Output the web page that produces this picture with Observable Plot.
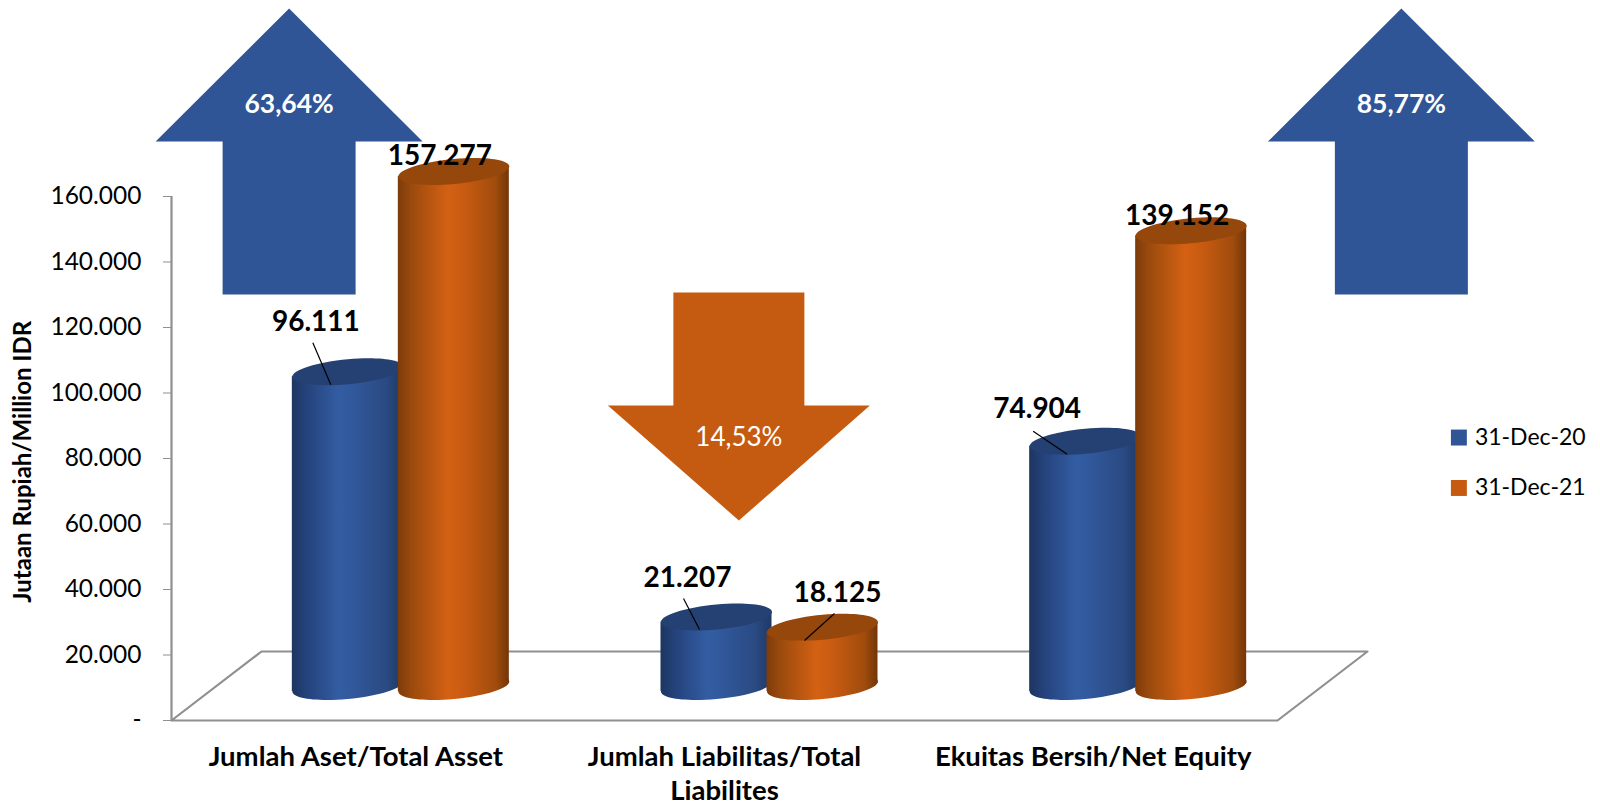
<!DOCTYPE html>
<html>
<head>
<meta charset="utf-8">
<script src="https://cdn.jsdelivr.net/npm/d3@7"></script>
<script src="https://cdn.jsdelivr.net/npm/@observablehq/plot@0.6"></script>
<style>
html,body{margin:0;padding:0;background:#fff}
svg{display:block}
</style>
</head>
<body>
<div id="chart"></div>
<script>
// ---- data ----
const categories = ["Jumlah Aset/Total Asset", "Jumlah Liabilitas/Total\nLiabilites", "Ekuitas Bersih/Net Equity"];
const seriesNames = ["31-Dec-20", "31-Dec-21"];
const values2020 = [96111, 21207, 74904];
const values2021 = [157277, 18125, 139152];
const yTicks = [0, 20000, 40000, 60000, 80000, 100000, 120000, 140000, 160000];
const changeLabels = ["63,64%", "14,53%", "85,77%"];
const yTitle = "Jutaan Rupiah/Million IDR";

// ---- styles & layout ----
const blue = "#2F5597", orange = "#C55A11";
const blueTop = "#254073", orangeTop = "#96470B";
const gray = "#8f8f8f";
const font = "Lato";
const pxX = 1 / 368.67;          // one pixel in x units
const pxY = 160000 / 524;        // one pixel in y units
const depthX = 45, depthY = -34; // the cylinders stand half way back on the floor
const halfW = 55.5 * pxX, gap = 53 * pxX, tilt = 5 * pxY;

function ellipseSymbol(a, b, s) {
  const k = 0.5523;
  const P = (x, y) => [x * a, y * b - s * x * a];
  return {draw(c) {
    c.moveTo(...P(1, 0));
    c.bezierCurveTo(...P(1, k), ...P(k, 1), ...P(0, 1));
    c.bezierCurveTo(...P(-k, 1), ...P(-1, k), ...P(-1, 0));
    c.bezierCurveTo(...P(-1, -k), ...P(-k, -1), ...P(0, -1));
    c.bezierCurveTo(...P(k, -1), ...P(1, -k), ...P(1, 0));
    c.closePath();
  }};
}
const disc = ellipseSymbol(55.5, 12.5, 5 / 55.5);

function polySymbol(pts) {
  return {draw(c) {
    pts.forEach((p, i) => i ? c.lineTo(...p) : c.moveTo(...p));
    c.closePath();
  }};
}
const arrowUp = polySymbol([[0,0],[133.5,133],[66.5,133],[66.5,286],[-66.5,286],[-66.5,133],[-133.5,133]]);
const arrowDown = polySymbol([[0,0],[131,-115],[65.5,-115],[65.5,-228],[-65.5,-228],[-65.5,-115],[-131,-115]]);

const centers = categories.map((_, i) => i + 0.5);

// the left edge of a cylinder sits lower on the page than the right edge
function body(vals, off) {
  return vals.flatMap((v, i) => [
    {id: i, x: centers[i] + off - halfW, y1: -tilt, y2: v - tilt},
    {id: i, x: centers[i] + off + halfW, y1: tilt, y2: v + tilt}
  ]);
}
function cylinders(vals, off, grad, topColor) {
  const pts = vals.map((v, i) => ({x: centers[i] + off, v}));
  const shift = {dx: depthX, dy: depthY};
  return [
    Plot.dot(pts, {x: "x", y: () => 0, r: 1, symbol: disc, fill: grad, ...shift}),
    Plot.areaY(body(vals, off), {x: "x", y1: "y1", y2: "y2", z: "id", fill: grad, ...shift}),
    Plot.dot(pts, {x: "x", y: "v", r: 1, symbol: disc, fill: topColor, ...shift})
  ];
}

// value labels: offset in pixels from the top of each cylinder
const labelOffsets2020 = [[-32, -50], [-29, -39], [-48, -32]];
const labelOffsets2021 = [[-14, -15], [15, -34], [-14, -15]];
// leader lines: [label end dx, dy, bar end dx, dy], pixels from the cylinder top
const leaders2020 = [[-35, -29, -17, 13], [-33, -18.5, -17, 12.5], [-52, -10, -18, 13]];
const leaders2021 = [null, [12, -13.6, -18, 13.4], null];

const fmt = d => d3.format(",")(d).replace(/,/g, ".");

function valueLabels(vals, off, offsets) {
  return vals.map((v, i) => Plot.text([v], {
    x: () => centers[i] + off,
    y: d => d,
    text: fmt,
    dx: depthX + offsets[i][0],
    dy: depthY + offsets[i][1],
    fontSize: 28, fontWeight: 700, fill: "#000"
  }));
}
function leaderLines(vals, off, list) {
  const rows = vals.map((v, i) => list[i] && {
    x1: centers[i] + off + list[i][0] * pxX,
    y1: v - list[i][1] * pxY,
    x2: centers[i] + off + list[i][2] * pxX,
    y2: v - list[i][3] * pxY
  }).filter(Boolean);
  return Plot.link(rows, {x1: "x1", y1: "y1", x2: "x2", y2: "y2", stroke: "#000", strokeWidth: 1.2, dx: depthX, dy: depthY});
}

const floor = [
  {x: 0, y: 0},
  {x: 90 * pxX, y: 69 * pxY},
  {x: 3 + 90 * pxX, y: 69 * pxY},
  {x: 3, y: 0},
  {x: 0, y: 0}
];
const upArrows = [
  {x: 0.319, y: 217400, label: changeLabels[0], ly: 188100},
  {x: 3.336, y: 217400, label: changeLabels[2], ly: 188100}
];
const downArrows = [
  {x: 1.539, y: 61069, label: changeLabels[1], ly: 86400}
];
const legendX = 3.492, legendY = [86400, 71000];

const chart = Plot.plot({
  width: 1600, height: 807,
  marginLeft: 171, marginRight: 323, marginTop: 196, marginBottom: 87,
  style: {fontFamily: font, background: "#fff"},
  x: {domain: [0, 3], axis: null},
  y: {domain: [0, 160000], axis: null},
  marks: [
    Plot.line(floor, {x: "x", y: "y", stroke: gray, strokeWidth: 2.2, curve: "linear"}),
    Plot.ruleX([0], {y1: 0, y2: 160000, stroke: gray, strokeWidth: 2.2}),
    Plot.axisY({
      ticks: yTicks, tickSize: 8, tickPadding: 22, stroke: gray, fill: "#000", fontSize: 24.5,
      tickFormat: d => d === 0 ? "-" : fmt(d), label: null
    }),
    Plot.text([yTitle], {
      frameAnchor: "left", textAnchor: "middle", y: () => 79000, dx: -148, rotate: -90, text: d => d,
      fontSize: 24, fontWeight: 700, fill: "#000"
    }),
    Plot.text(categories, {
      x: (d, i) => centers[i], y: () => 0, text: d => d, dy: 22, lineAnchor: "top",
      fontSize: 27.5, fontWeight: 700, lineHeight: 1.22, fill: "#000"
    }),
    Plot.dot(upArrows, {x: "x", y: "y", r: 1, symbol: arrowUp, fill: blue}),
    Plot.dot(downArrows, {x: "x", y: "y", r: 1, symbol: arrowDown, fill: orange}),
    Plot.text(upArrows, {x: "x", y: "ly", text: "label", fill: "#fff", fontSize: 26.5, fontWeight: 700}),
    Plot.text(downArrows, {x: "x", y: "ly", text: "label", fill: "#fff", fontSize: 26}),
    ...cylinders(values2020, -gap, "url(#gradBlue)", blueTop),
    ...cylinders(values2021, gap, "url(#gradOrange)", orangeTop),
    leaderLines(values2020, -gap, leaders2020),
    leaderLines(values2021, gap, leaders2021),
    ...valueLabels(values2020, -gap, labelOffsets2020),
    ...valueLabels(values2021, gap, labelOffsets2021),
    Plot.dot(seriesNames, {x: () => legendX, y: (d, i) => legendY[i], symbol: "square", r: 9, fill: (d, i) => [blue, orange][i], stroke: "none"}),
    Plot.text(seriesNames, {x: () => legendX, y: (d, i) => legendY[i], text: d => d, dx: 16, textAnchor: "start", fontSize: 23, fill: "#000"})
  ]
});

const defs = d3.select(chart).insert("defs", ":first-child");
function grad(id, stops) {
  const g = defs.append("linearGradient").attr("id", id).attr("x1", 0).attr("x2", 1).attr("y1", 0).attr("y2", 0);
  stops.forEach(([o, c]) => g.append("stop").attr("offset", o).attr("stop-color", c));
}
grad("gradBlue", [[0, "#1d3560"], [0.12, "#24417a"], [0.42, "#335da3"], [0.55, "#31589b"], [0.85, "#2a4a82"], [1, "#1f3867"]]);
grad("gradOrange", [[0, "#7c3b0a"], [0.12, "#9a4a0d"], [0.45, "#d46113"], [0.6, "#c85b11"], [0.88, "#a04c0d"], [1, "#733508"]]);
document.getElementById("chart").appendChild(chart);
</script>
</body>
</html>
